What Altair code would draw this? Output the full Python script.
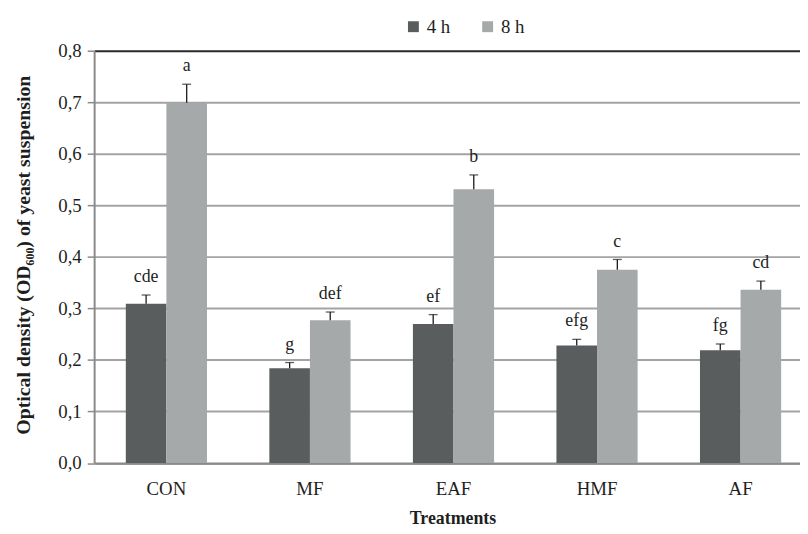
import altair as alt
import pandas as pd

treatments = ["CON", "MF", "EAF", "HMF", "AF"]
times = ["4 h", "8 h"]
od_4h = [0.309, 0.184, 0.270, 0.228, 0.219]
od_8h = [0.699, 0.277, 0.531, 0.375, 0.336]
sd_4h = [0.017, 0.011, 0.018, 0.012, 0.012]
sd_8h = [0.036, 0.016, 0.028, 0.020, 0.017]
letters_4h = ["cde", "g", "ef", "efg", "fg"]
letters_8h = ["a", "def", "b", "c", "cd"]
y_ticks = [0.0, 0.1, 0.2, 0.3, 0.4, 0.5, 0.6, 0.7, 0.8]

rows = []
for i, t in enumerate(treatments):
    rows.append({"treatment": t, "time": times[0], "od": od_4h[i], "top": od_4h[i] + sd_4h[i], "letter": letters_4h[i]})
    rows.append({"treatment": t, "time": times[1], "od": od_8h[i], "top": od_8h[i] + sd_8h[i], "letter": letters_8h[i]})
df = pd.DataFrame(rows)

FONT = "Liberation Serif"
TXT = "#1e1e1e"

x_enc = alt.X(
    "treatment:N",
    sort=treatments,
    scale=alt.Scale(paddingInner=0.4345, paddingOuter=0.176, align=0.627),
    axis=alt.Axis(
        title="Treatments",
        titleFont=FONT, titleFontSize=18, titleFontWeight="bold", titleColor=TXT,
        titleX=362, titleY=56, titleBaseline="middle", titleAlign="center",
        labelFont=FONT, labelFontSize=19, labelColor=TXT, labelAngle=0, labelPadding=17,
        ticks=False, domainColor="#8a8a8a", domainWidth=2,
    ),
)
xo_enc = alt.XOffset("time:N", sort=times, scale=alt.Scale(paddingInner=0, paddingOuter=0))

base = alt.Chart(df).encode(x=x_enc, xOffset=xo_enc)

bars = base.mark_bar().encode(
    y=alt.Y(
        "od:Q",
        scale=alt.Scale(domain=[0, 0.8], nice=False),
        axis=alt.Axis(
            values=y_ticks,
            labelExpr="replace(format(datum.value, '.1f'), '.', ',')",
            title="Optical density (OD₆₀₀) of yeast suspension",
            titleFont=FONT, titleFontSize=20, titleFontWeight="bold", titleColor=TXT,
            titleX=-71, titleY=206, titleAngle=270, titleBaseline="middle", titleAlign="center",
            labelFont=FONT, labelFontSize=19, labelColor=TXT, labelPadding=6,
            tickSize=7, tickColor="#8a8a8a", tickWidth=1.5,
            domainColor="#8a8a8a", domainWidth=2,
            grid=True, gridWidth=2,
            gridColor={"condition": {"test": "datum.value >= 0.79", "value": "#2a2a2a"}, "value": "#a3a3a3"},
        ),
    ),
    color=alt.Color(
        "time:N",
        sort=times,
        scale=alt.Scale(domain=times, range=["#595d5e", "#a6a9a9"]),
        legend=alt.Legend(
            title=None, orient="none", legendX=313, legendY=-34, direction="horizontal",
            symbolType="square", symbolSize=121, symbolStrokeWidth=0,
            labelFont=FONT, labelFontSize=19, labelColor=TXT, labelOffset=4, columnPadding=28,
        ),
    ),
)

rules = base.mark_rule(color="#1a1a1a", strokeWidth=1.3).encode(y="od:Q", y2="top:Q")
caps = base.mark_tick(color="#1a1a1a", thickness=1.3, size=9).encode(y="top:Q")
labels = base.mark_text(font=FONT, fontSize=18, color=TXT, baseline="alphabetic", dy=-13).encode(
    y="top:Q", text="letter:N"
)

chart = alt.layer(bars, rules, caps, labels).properties(
    width=713,
    height=416.5,
    autosize=alt.AutoSizeParams(type="none"),
    padding={"left": 87, "top": 40.5, "right": 0, "bottom": 67},
).configure(font=FONT).configure_view(stroke=None).configure_axis(
    labelFont=FONT, titleFont=FONT
).configure_legend(labelFont=FONT)

chart.save("out.html", embed_options={"renderer": "svg", "actions": False})
